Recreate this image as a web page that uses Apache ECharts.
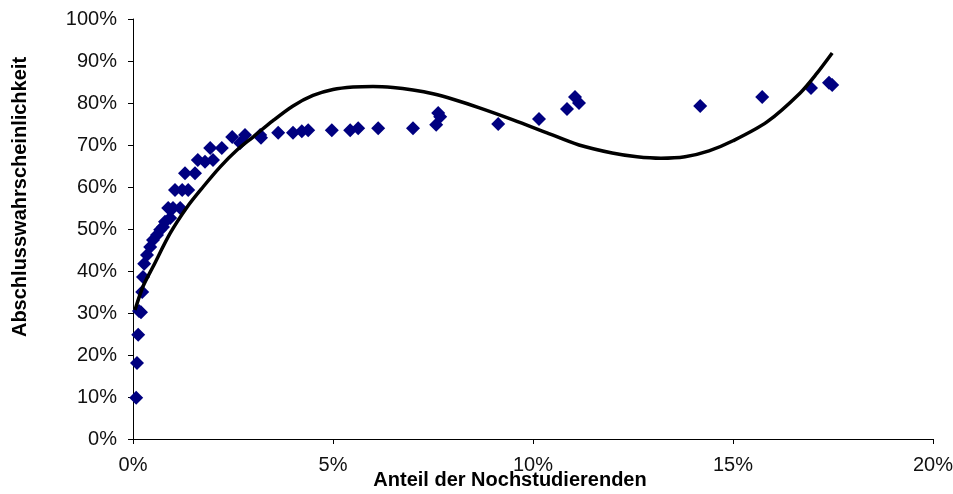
<!DOCTYPE html>
<html>
<head>
<meta charset="utf-8">
<script src="https://cdn.jsdelivr.net/npm/echarts@6/dist/echarts.min.js"></script>
<style>html,body{margin:0;padding:0;background:#fff;}#c{width:953px;height:494px;}</style>
</head>
<body>
<div id="c"></div>
<script>
// Anteil der Nochstudierenden (%) vs Abschlusswahrscheinlichkeit (%)
var pointsX = [0.08,0.10,0.13,0.15,0.20,0.23,0.25,0.28,0.35,0.43,0.50,0.60,0.68,0.75,0.80,0.93,0.88,1.00,1.18,1.05,1.23,1.38,1.30,1.55,1.62,1.80,2.00,1.93,2.22,2.48,2.68,2.80,3.18,3.20,3.63,4.00,4.22,4.38,4.97,5.43,5.63,6.13,7.00,7.58,7.63,7.68,9.13,10.15,10.85,11.05,11.15,14.18,15.73,16.95,17.40,17.48];
var pointsY = [9.8,18.1,24.8,30.5,30.2,35.0,38.6,41.7,43.8,45.7,47.4,48.6,49.8,50.5,51.7,52.6,55.0,55.0,55.0,59.3,59.3,59.3,63.3,63.3,66.4,66.0,66.4,69.3,69.3,71.9,70.5,72.4,72.4,71.7,72.9,72.9,73.3,73.5,73.5,73.5,74.0,74.0,74.0,74.8,77.6,76.7,75.0,76.2,78.6,81.4,80.0,79.3,81.4,83.6,84.8,84.3];
// trend line
var trendX = [0.05,0.25,0.5,0.93,1.35,1.75,2.18,2.6,3.0,3.5,4.0,4.5,5.0,5.5,6.0,6.5,7.0,7.5,8.0,8.68,9.5,10.35,11.15,11.98,12.6,13.2,13.8,14.4,15.0,15.85,16.68,17.1,17.48];
var trendY = [30.7,36.3,41.0,49.0,55.2,60.0,64.8,68.8,71.9,75.8,79.3,81.8,83.2,83.8,83.95,83.7,83.1,82.2,80.9,78.8,76.0,72.9,70.0,68.1,67.2,66.85,67.2,68.6,71.0,75.5,82.4,87.1,91.9];
var xTicks = [0,5,10,15,20];
var yTicks = [0,10,20,30,40,50,60,70,80,90,100];

var scatterData = pointsX.map(function(x,i){return [x,pointsY[i]];});
var trendData = trendX.map(function(x,i){return [x,trendY[i]];});

var chart = echarts.init(document.getElementById('c'));
chart.setOption({
  animation:false,
  grid:{left:133,right:20,top:19,bottom:55,containLabel:false,outerBoundsMode:'none'},
  xAxis:{
    type:'value',min:xTicks[0],max:xTicks[xTicks.length-1],interval:5,
    name:'Anteil der Nochstudierenden',nameLocation:'middle',nameGap:31,nameMoveOverlap:false,
    nameTextStyle:{fontFamily:'Liberation Sans, Arial',fontWeight:'bold',fontSize:20,color:'#000',padding:[0,46,0,0]},
    axisLine:{lineStyle:{color:'#000',width:1}},
    axisTick:{show:true,length:5,lineStyle:{color:'#000'}},
    splitLine:{show:false},
    axisLabel:{formatter:'{value}%',fontFamily:'Liberation Sans, Arial',fontSize:20,color:'#111',margin:16}
  },
  yAxis:{
    type:'value',min:yTicks[0],max:yTicks[yTicks.length-1],interval:10,
    name:'Abschlusswahrscheinlichkeit',nameLocation:'middle',nameGap:103,nameMoveOverlap:false,
    nameTextStyle:{fontFamily:'Liberation Sans, Arial',fontWeight:'bold',fontSize:20,color:'#000',padding:[0,0,0,64]},
    axisLine:{show:true,lineStyle:{color:'#000',width:1}},
    axisTick:{show:true,length:5,lineStyle:{color:'#000'}},
    splitLine:{show:false},
    axisLabel:{formatter:'{value}%',fontFamily:'Liberation Sans, Arial',fontSize:20,color:'#111',margin:16}
  },
  series:[
    {type:'scatter',data:scatterData,symbol:'diamond',symbolSize:14,itemStyle:{color:'#000080',opacity:1},z:2},
    {type:'line',data:trendData,smooth:0.3,showSymbol:false,lineStyle:{color:'#000',width:3.5},z:3}
  ]
});
</script>
</body>
</html>
